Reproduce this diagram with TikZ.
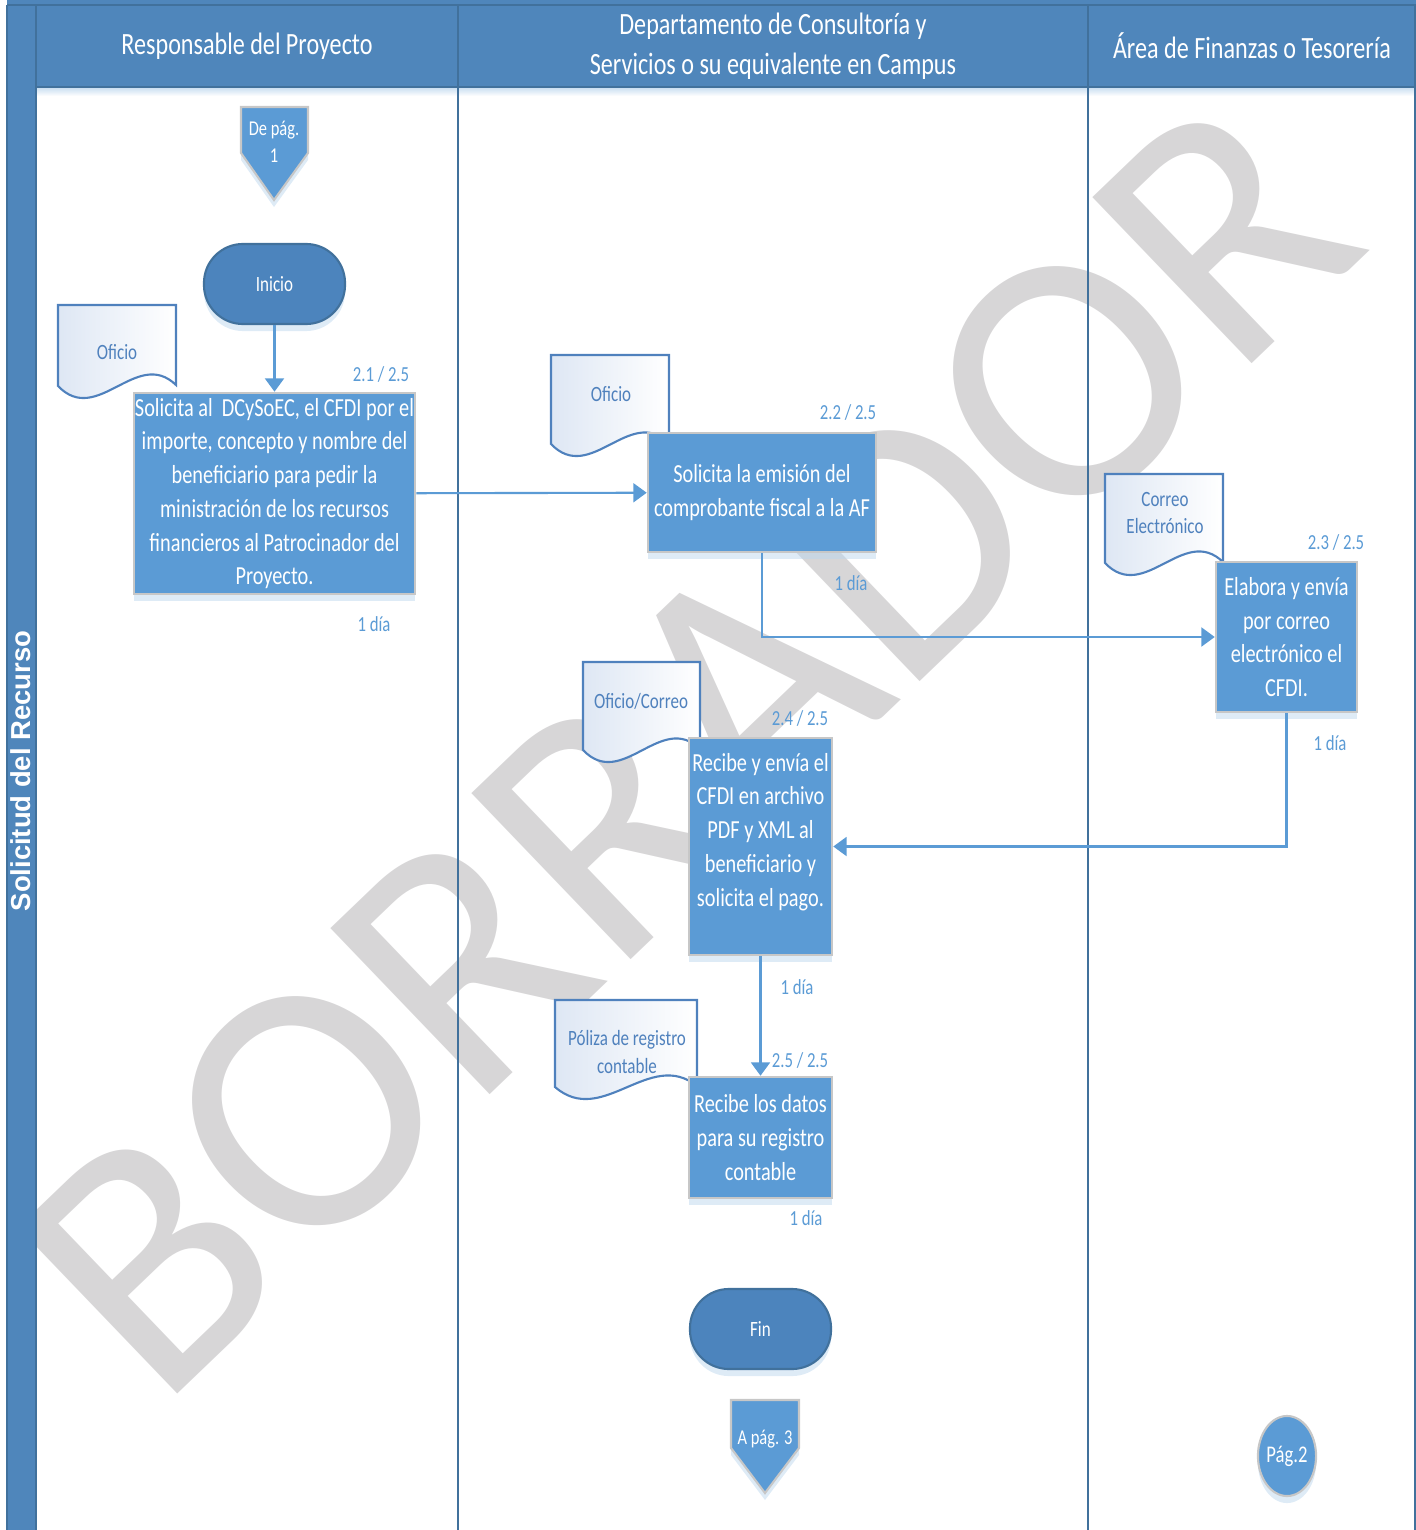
\documentclass[tikz,border=0pt]{standalone}
\usepackage{fontspec}
\setmainfont{Carlito}[FakeStretch=0.78]
\newfontfamily\marcafont{Carlito}
\newfontfamily\carrilfont{Liberation Sans}
\usetikzlibrary{arrows.meta,shapes.geometric,shadows}

\definecolor{carril}{RGB}{79,134,187}
\definecolor{carrilborde}{RGB}{65,113,156}
\definecolor{caja}{RGB}{91,155,213}
\definecolor{terminal}{RGB}{76,132,189}
\definecolor{docazul}{RGB}{79,129,189}
\definecolor{docfondo}{RGB}{222,231,244}
\definecolor{marca}{RGB}{215,214,215}

% hoja con borde ondulado: x izq, y sup, x der, y inf
\newcommand{\documento}[4]{%
  \path[doc] (#1,#2) -- (#3,#2) -- (#3,#4-12)
    .. controls ({#1+(#3-#1)*2/3},#4-50) and ({#1+(#3-#1)/3},#4+30) .. (#1,#4-11) -- cycle;}

\begin{document}
\begin{tikzpicture}[x=0.01cm, y=-0.01cm,
  sombra/.style={drop shadow={shadow xshift=0pt, shadow yshift=-2pt, fill=caja!40, opacity=0.5}},
  caja/.style={rectangle, fill=caja, draw=black!22, line width=0.7pt, text=white, align=center,
    inner sep=0pt, font=\fontsize{7.4}{9.6}\selectfont, sombra},
  terminal/.style={rectangle, rounded corners=0.39cm, minimum width=1.41cm, minimum height=0.80cm,
    fill=terminal, draw=carrilborde, line width=0.6pt, text=white, font=\fontsize{6.2}{7.4}\selectfont, sombra},
  doc/.style={draw=docazul, line width=0.6pt, left color=docfondo, right color=white},
  doctxt/.style={text=docazul, align=center, inner sep=0pt, font=\fontsize{6.2}{7.8}\selectfont},
  lbl/.style={text=caja, inner sep=0pt, font=\fontsize{6.1}{7.4}\selectfont},
  cabecera/.style={text=white, align=center, inner sep=0pt, font=\fontsize{8.8}{11.4}\selectfont},
  conector/.style={fill=caja, draw=black!22, line width=0.6pt, sombra},
  flecha/.style={draw=caja, line width=0.6pt, -{Triangle[length=3.8pt,width=5.4pt]}}]

\useasboundingbox (0,0) rectangle (1416,1530);

% marca de agua
\node[text=marca, anchor=base west, inner sep=0pt, rotate=43.8, font=\marcafont\fontsize{102}{102}\selectfont]
  (borrador) at (159,1412) {BORRADOR};

% carriles
\fill[carril] (7,0) rectangle (1416,87);
\fill[carril] (7,0) rectangle (36,1530);
\shade[top color=caja!35, bottom color=white] (36,87) rectangle (1415,96);
\draw[carrilborde, line width=0.6pt] (7,5) -- (1416,5);
\draw[carrilborde, line width=0.6pt] (36,87) -- (1415,87);
\draw[carrilborde, line width=0.6pt] (7,5) -- (7,1530);
\draw[carrilborde, line width=0.6pt] (36,5) -- (36,1530);
\draw[carrilborde, line width=0.6pt] (458,5) -- (458,1530);
\draw[carrilborde, line width=0.6pt] (1088,5) -- (1088,1530);
\draw[carrilborde, line width=0.6pt] (1415,5) -- (1415,1530);

\node[cabecera] (resp) at (247,46) {Responsable del Proyecto};
\node[cabecera] (depto) at (773,46) {Departamento de Consultoría y\\Servicios o su equivalente en Campus};
\node[cabecera] (finanzas) at (1252,46) {Área de Finanzas o Tesorería};
\node[text=white, rotate=90, inner sep=0pt, font=\carrilfont\bfseries\fontsize{7.8}{9}\selectfont]
  (solicitud) at (21,771) {Solicitud del Recurso};

% documentos
\documento{58}{305}{176}{397}
\node[doctxt] (d1) at (117,352) {Oficio};
\documento{551}{355}{669}{455}
\node[doctxt] (d2) at (611,394) {Oficio};
\documento{1105}{474}{1223}{574}
\node[doctxt] (d3) at (1165,513) {Correo\\Electrónico};
\documento{583}{662}{700}{761}
\node[doctxt] (d4) at (641,701) {Oficio/Correo};
\documento{555}{1000}{697}{1098}
\node[doctxt] (d5) at (627,1052) {Póliza de registro\\contable};

% conectores de pagina
\draw[conector] (241,107) -- (308,107) -- (308,153) -- (274,200) -- (241,153) -- cycle;
\node[text=white, align=center, font=\fontsize{6}{7.6}\selectfont] (depag) at (274,142) {De pág.\\1};
\draw[conector] (731,1400) -- (799,1400) -- (799,1448) -- (765,1493) -- (731,1448) -- cycle;
\node[text=white, font=\fontsize{6}{7.2}\selectfont] (apag) at (765,1439) {A pág. 3};
\node[ellipse, minimum width=0.56cm, minimum height=0.80cm, fill=caja, draw=black!22, line width=0.6pt,
  text=white, inner sep=0pt, font=\fontsize{6.8}{8}\selectfont, sombra] (pag2) at (1287,1456) {Pág.2};

% actividades
\node[terminal] (inicio) at (274.5,284) {Inicio};
\node[caja, minimum width=2.81cm, minimum height=2.01cm] (b1) at (274.5,493.5)
  {Solicita al\ \ DCySoEC, el CFDI por el\\importe, concepto y nombre del\\beneficiario para pedir la\\ministración de los recursos\\financieros al Patrocinador del\\Proyecto.};
\node[caja, minimum width=2.28cm, minimum height=1.19cm] (b2) at (762,492.5)
  {Solicita la emisión del\\comprobante fiscal a la AF};
\node[caja, minimum width=1.41cm, minimum height=1.50cm] (b3) at (1286.5,637)
  {Elabora y envía\\por correo\\electrónico el\\CFDI.};
\node[caja, minimum width=1.43cm, minimum height=2.17cm] (b4) at (760.5,846.5)
  {Recibe y envía el\\CFDI en archivo\\PDF y XML al\\beneficiario y\\solicita el pago.\\~};
\node[caja, minimum width=1.43cm, minimum height=1.21cm] (b5) at (760.5,1137.5)
  {Recibe los datos\\para su registro\\contable};
\node[terminal] (fin) at (760.5,1329) {Fin};

% numeros y tiempos
\node[lbl] (n1) at (381,375) {2.1 / 2.5};
\node[lbl] (t1) at (374,624) {1 día};
\node[lbl] (n2) at (848,413) {2.2 / 2.5};
\node[lbl] (t2) at (851,583) {1 día};
\node[lbl] (n3) at (1336,543) {2.3 / 2.5};
\node[lbl] (t3) at (1330,743) {1 día};
\node[lbl] (n4) at (800,718) {2.4 / 2.5};
\node[lbl] (t4) at (797,987) {1 día};
\node[lbl] (n5) at (800,1060) {2.5 / 2.5};
\node[lbl] (t5) at (806,1218) {1 día};

% flujo
\draw[flecha] (inicio) -- (b1);
\draw[flecha] (b1) -- (b2);
\draw[flecha] (b2.south) |- (b3.west);
\draw[flecha] (b3.south) |- (b4.east);
\draw[flecha] (b4) -- (b5);

\end{tikzpicture}
\end{document}
